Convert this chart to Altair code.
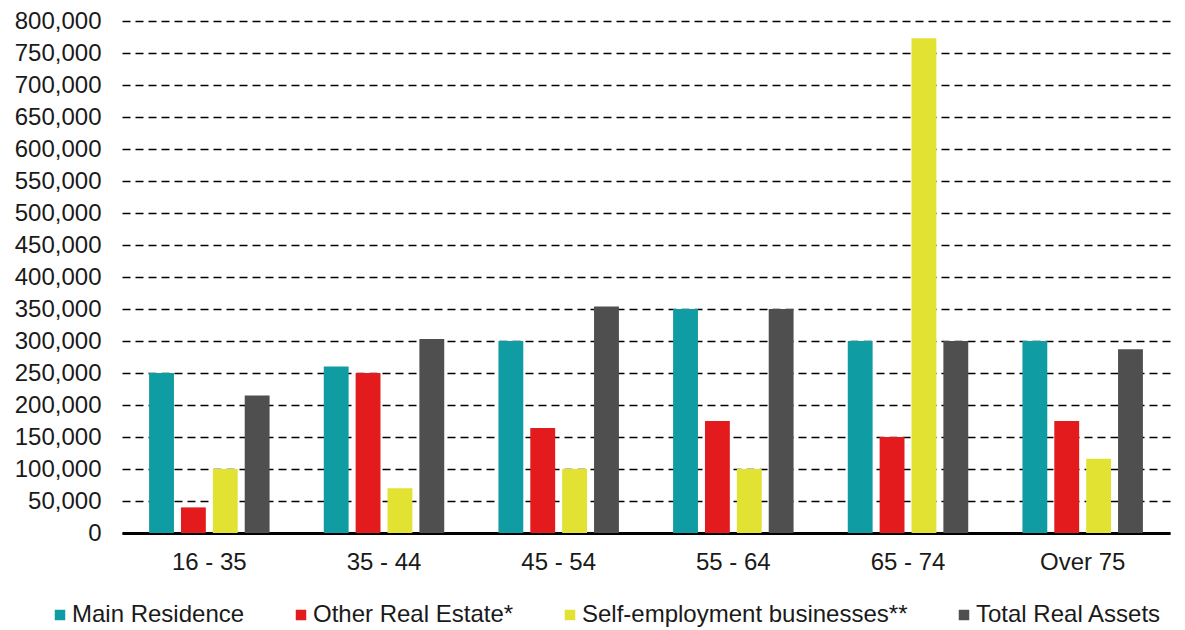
import altair as alt
import pandas as pd

groups = ["16 - 35", "35 - 44", "45 - 54", "55 - 64", "65 - 74", "Over 75"]
series = ["Main Residence", "Other Real Estate*", "Self-employment businesses**", "Total Real Assets"]
colors = ["#109CA3", "#E31B1D", "#E1E232", "#4F4F4F"]

main_residence = [250000, 260000, 300000, 350000, 300000, 300000]
other_real_estate = [40000, 250000, 164000, 175000, 150000, 175000]
self_employment = [100000, 70000, 100000, 100000, 773000, 116000]
total_real_assets = [215000, 303000, 354000, 350000, 300000, 287000]

values = [main_residence, other_real_estate, self_employment, total_real_assets]
rows = []
for s, vals in zip(series, values):
    for g, v in zip(groups, vals):
        rows.append({"group": g, "series": s, "value": v})
df = pd.DataFrame(rows)

font = "Liberation Sans"
fs = 24

chart = alt.Chart(df).mark_bar().encode(
    x=alt.X("group:N", sort=groups, title=None,
            scale=alt.Scale(paddingInner=0, paddingOuter=0),
            axis=alt.Axis(labelAngle=0, ticks=False, domain=True, domainColor="black",
                          domainWidth=3, labelFontSize=fs, labelFont=font,
                          labelColor="#1a1a1a", labelPadding=17, grid=False)),
    xOffset=alt.XOffset("series:N", sort=series,
                        scale=alt.Scale(paddingInner=0.22, paddingOuter=0.85)),
    y=alt.Y("value:Q", title=None,
            scale=alt.Scale(domain=[0, 800000], nice=False),
            axis=alt.Axis(values=list(range(0, 800001, 50000)), format=",d",
                          domain=False, ticks=False, grid=True, gridColor="black",
                          gridDash=[8, 5], gridWidth=1.6, labelFontSize=fs,
                          labelFont=font, labelColor="#1a1a1a", labelPadding=21)),
    color=alt.Color("series:N", sort=series,
                    scale=alt.Scale(domain=series, range=colors),
                    legend=alt.Legend(title=None, orient="none", direction="horizontal",
                                      legendX=-74, legendY=582, symbolType="square",
                                      symbolSize=110, symbolStrokeWidth=0,
                                      symbolOpacity=1, labelFontSize=fs, labelFont=font,
                                      labelColor="#1a1a1a", labelOffset=0,
                                      columnPadding=44, padding=0, labelLimit=500)),
).properties(
    width=1048, height=512,
    autosize=alt.AutoSizeParams(type="none"),
    padding={"left": 114, "top": 13, "right": 6, "bottom": 100},
).configure_view(stroke=None)

chart.save("out.html", embed_options={"renderer": "svg", "actions": False})
